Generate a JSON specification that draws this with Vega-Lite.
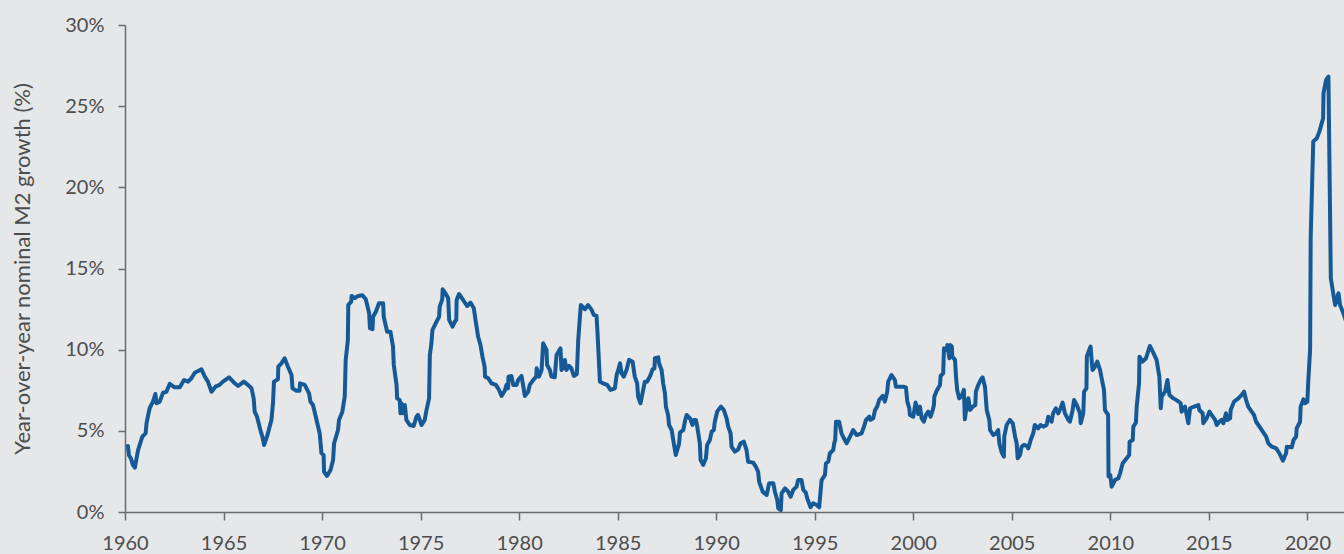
{
 "$schema": "https://vega.github.io/schema/vega-lite/v6.json",
 "width": 1219,
 "height": 487,
 "autosize": {"type": "none"},
 "padding": {"left": 125, "top": 25, "right": 0, "bottom": 42},
 "background": "#e6e7e9",
 "data": {"values": [
  {"year":1960.15,"growth":4.07},{"year":1960.2,"growth":3.5},{"year":1960.3,"growth":3.3},{"year":1960.4,"growth":2.9},{"year":1960.5,"growth":2.73},{"year":1960.66,"growth":3.8},{"year":1960.88,"growth":4.64},{"year":1961.05,"growth":4.86},{"year":1961.09,"growth":5.46},{"year":1961.25,"growth":6.39},{"year":1961.42,"growth":6.8},{"year":1961.54,"growth":7.27},{"year":1961.6,"growth":6.7},{"year":1961.76,"growth":6.8},{"year":1961.93,"growth":7.35},{"year":1962.1,"growth":7.41},{"year":1962.27,"growth":7.89},{"year":1962.52,"growth":7.68},{"year":1962.78,"growth":7.68},{"year":1963.0,"growth":8.13},{"year":1963.2,"growth":8.03},{"year":1963.37,"growth":8.24},{"year":1963.54,"growth":8.58},{"year":1963.88,"growth":8.79},{"year":1964.05,"growth":8.34},{"year":1964.21,"growth":8.03},{"year":1964.39,"growth":7.41},{"year":1964.59,"growth":7.72},{"year":1964.8,"growth":7.83},{"year":1964.97,"growth":8.03},{"year":1965.28,"growth":8.3},{"year":1965.57,"growth":7.93},{"year":1965.74,"growth":7.76},{"year":1966.03,"growth":8.03},{"year":1966.24,"growth":7.83},{"year":1966.42,"growth":7.62},{"year":1966.53,"growth":7.0},{"year":1966.58,"growth":6.18},{"year":1966.7,"growth":5.87},{"year":1966.87,"growth":5.05},{"year":1966.97,"growth":4.64},{"year":1967.06,"growth":4.13},{"year":1967.23,"growth":4.74},{"year":1967.43,"growth":5.67},{"year":1967.51,"growth":6.7},{"year":1967.56,"growth":8.03},{"year":1967.76,"growth":8.18},{"year":1967.78,"growth":8.95},{"year":1967.94,"growth":9.16},{"year":1968.1,"growth":9.47},{"year":1968.27,"growth":8.95},{"year":1968.45,"growth":8.44},{"year":1968.5,"growth":7.62},{"year":1968.7,"growth":7.47},{"year":1968.86,"growth":7.47},{"year":1968.88,"growth":7.93},{"year":1969.12,"growth":7.83},{"year":1969.34,"growth":7.31},{"year":1969.41,"growth":6.8},{"year":1969.54,"growth":6.59},{"year":1969.72,"growth":5.67},{"year":1969.88,"growth":4.85},{"year":1969.97,"growth":3.62},{"year":1970.08,"growth":3.51},{"year":1970.1,"growth":2.48},{"year":1970.25,"growth":2.22},{"year":1970.43,"growth":2.59},{"year":1970.56,"growth":3.2},{"year":1970.61,"growth":4.23},{"year":1970.81,"growth":5.05},{"year":1970.86,"growth":5.67},{"year":1971.03,"growth":6.18},{"year":1971.15,"growth":7.1},{"year":1971.2,"growth":9.37},{"year":1971.31,"growth":10.6},{"year":1971.33,"growth":12.75},{"year":1971.48,"growth":12.96},{"year":1971.5,"growth":13.31},{"year":1971.66,"growth":13.17},{"year":1971.83,"growth":13.31},{"year":1972.05,"growth":13.35},{"year":1972.22,"growth":13.1},{"year":1972.39,"growth":12.24},{"year":1972.43,"growth":11.33},{"year":1972.56,"growth":11.26},{"year":1972.59,"growth":12.03},{"year":1972.73,"growth":12.34},{"year":1972.89,"growth":12.86},{"year":1973.1,"growth":12.86},{"year":1973.13,"growth":12.03},{"year":1973.3,"growth":11.11},{"year":1973.47,"growth":11.11},{"year":1973.6,"growth":10.19},{"year":1973.64,"growth":9.06},{"year":1973.78,"growth":7.83},{"year":1973.81,"growth":7.0},{"year":1973.94,"growth":6.9},{"year":1973.98,"growth":6.08},{"year":1974.03,"growth":6.7},{"year":1974.11,"growth":6.08},{"year":1974.2,"growth":6.59},{"year":1974.28,"growth":5.67},{"year":1974.45,"growth":5.36},{"year":1974.65,"growth":5.3},{"year":1974.79,"growth":5.87},{"year":1974.87,"growth":5.98},{"year":1975.05,"growth":5.36},{"year":1975.21,"growth":5.67},{"year":1975.3,"growth":6.28},{"year":1975.43,"growth":7.0},{"year":1975.47,"growth":9.67},{"year":1975.55,"growth":10.39},{"year":1975.6,"growth":11.21},{"year":1975.81,"growth":11.73},{"year":1975.94,"growth":12.03},{"year":1975.97,"growth":12.65},{"year":1976.1,"growth":13.1},{"year":1976.12,"growth":13.72},{"year":1976.28,"growth":13.43},{"year":1976.4,"growth":13.17},{"year":1976.45,"growth":11.83},{"year":1976.62,"growth":11.42},{"year":1976.74,"growth":11.73},{"year":1976.81,"growth":11.83},{"year":1976.83,"growth":13.06},{"year":1976.95,"growth":13.43},{"year":1977.16,"growth":13.06},{"year":1977.36,"growth":12.69},{"year":1977.53,"growth":12.9},{"year":1977.7,"growth":12.55},{"year":1977.8,"growth":11.73},{"year":1977.92,"growth":10.8},{"year":1978.04,"growth":10.29},{"year":1978.14,"growth":9.57},{"year":1978.25,"growth":8.95},{"year":1978.27,"growth":8.34},{"year":1978.43,"growth":8.24},{"year":1978.6,"growth":7.93},{"year":1978.82,"growth":7.83},{"year":1978.98,"growth":7.52},{"year":1979.11,"growth":7.15},{"year":1979.27,"growth":7.47},{"year":1979.36,"growth":7.83},{"year":1979.44,"growth":7.62},{"year":1979.46,"growth":8.34},{"year":1979.61,"growth":8.38},{"year":1979.7,"growth":7.83},{"year":1979.87,"growth":7.83},{"year":1979.95,"growth":8.13},{"year":1980.12,"growth":8.38},{"year":1980.2,"growth":7.83},{"year":1980.29,"growth":7.15},{"year":1980.46,"growth":7.41},{"year":1980.54,"growth":7.83},{"year":1980.71,"growth":8.13},{"year":1980.87,"growth":8.34},{"year":1980.89,"growth":8.85},{"year":1981.01,"growth":8.34},{"year":1981.14,"growth":8.75},{"year":1981.22,"growth":10.39},{"year":1981.39,"growth":9.98},{"year":1981.42,"growth":9.06},{"year":1981.56,"growth":8.75},{"year":1981.64,"growth":8.34},{"year":1981.81,"growth":8.3},{"year":1981.9,"growth":9.67},{"year":1982.1,"growth":10.08},{"year":1982.15,"growth":8.75},{"year":1982.27,"growth":8.95},{"year":1982.32,"growth":9.37},{"year":1982.4,"growth":8.75},{"year":1982.54,"growth":9.0},{"year":1982.65,"growth":8.85},{"year":1982.78,"growth":8.38},{"year":1982.93,"growth":8.5},{"year":1983.0,"growth":10.6},{"year":1983.13,"growth":12.75},{"year":1983.34,"growth":12.49},{"year":1983.5,"growth":12.75},{"year":1983.68,"growth":12.45},{"year":1983.79,"growth":12.14},{"year":1983.93,"growth":12.08},{"year":1983.98,"growth":11.01},{"year":1984.1,"growth":8.03},{"year":1984.26,"growth":7.93},{"year":1984.47,"growth":7.83},{"year":1984.64,"growth":7.52},{"year":1984.86,"growth":7.62},{"year":1984.95,"growth":8.44},{"year":1985.08,"growth":8.95},{"year":1985.12,"growth":9.16},{"year":1985.2,"growth":8.54},{"year":1985.31,"growth":8.34},{"year":1985.45,"growth":8.75},{"year":1985.58,"growth":9.37},{"year":1985.76,"growth":9.26},{"year":1985.87,"growth":8.34},{"year":1985.99,"growth":7.93},{"year":1986.04,"growth":7.1},{"year":1986.16,"growth":6.7},{"year":1986.38,"growth":8.03},{"year":1986.5,"growth":8.03},{"year":1986.67,"growth":8.44},{"year":1986.77,"growth":8.79},{"year":1986.87,"growth":8.85},{"year":1986.89,"growth":9.47},{"year":1987.06,"growth":9.53},{"year":1987.1,"growth":9.16},{"year":1987.23,"growth":8.75},{"year":1987.31,"growth":7.93},{"year":1987.4,"growth":7.31},{"year":1987.45,"growth":6.49},{"year":1987.56,"growth":5.98},{"year":1987.61,"growth":5.36},{"year":1987.74,"growth":5.05},{"year":1987.85,"growth":4.23},{"year":1987.95,"growth":3.51},{"year":1988.12,"growth":4.23},{"year":1988.16,"growth":4.89},{"year":1988.33,"growth":5.05},{"year":1988.41,"growth":5.56},{"year":1988.5,"growth":5.98},{"year":1988.67,"growth":5.77},{"year":1988.8,"growth":5.36},{"year":1988.87,"growth":5.67},{"year":1988.97,"growth":5.67},{"year":1989.04,"growth":5.26},{"year":1989.17,"growth":4.23},{"year":1989.21,"growth":3.2},{"year":1989.34,"growth":2.9},{"year":1989.48,"growth":3.31},{"year":1989.54,"growth":4.13},{"year":1989.68,"growth":4.44},{"year":1989.77,"growth":4.95},{"year":1989.88,"growth":5.05},{"year":1989.93,"growth":5.56},{"year":1990.05,"growth":6.18},{"year":1990.24,"growth":6.49},{"year":1990.39,"growth":6.28},{"year":1990.53,"growth":5.77},{"year":1990.61,"growth":5.26},{"year":1990.73,"growth":4.85},{"year":1990.78,"growth":4.02},{"year":1990.95,"growth":3.72},{"year":1991.12,"growth":3.86},{"year":1991.24,"growth":4.23},{"year":1991.4,"growth":4.33},{"year":1991.54,"growth":3.82},{"year":1991.62,"growth":3.1},{"year":1991.88,"growth":3.04},{"year":1992.01,"growth":2.79},{"year":1992.13,"growth":2.48},{"year":1992.18,"growth":1.87},{"year":1992.36,"growth":1.25},{"year":1992.56,"growth":1.05},{"year":1992.69,"growth":1.77},{"year":1992.9,"growth":1.77},{"year":1992.98,"growth":1.25},{"year":1993.1,"growth":0.74},{"year":1993.15,"growth":0.23},{"year":1993.28,"growth":0.12},{"year":1993.32,"growth":1.15},{"year":1993.49,"growth":1.46},{"year":1993.65,"growth":1.25},{"year":1993.78,"growth":0.94},{"year":1993.91,"growth":1.36},{"year":1994.08,"growth":1.56},{"year":1994.16,"growth":1.97},{"year":1994.33,"growth":1.97},{"year":1994.42,"growth":1.36},{"year":1994.55,"growth":1.19},{"year":1994.62,"growth":0.84},{"year":1994.79,"growth":0.29},{"year":1994.92,"growth":0.54},{"year":1995.1,"growth":0.43},{"year":1995.23,"growth":0.29},{"year":1995.26,"growth":0.74},{"year":1995.35,"growth":1.97},{"year":1995.52,"growth":2.28},{"year":1995.57,"growth":3.0},{"year":1995.69,"growth":3.1},{"year":1995.77,"growth":3.62},{"year":1995.94,"growth":3.82},{"year":1995.99,"growth":4.23},{"year":1996.04,"growth":4.44},{"year":1996.08,"growth":5.56},{"year":1996.24,"growth":5.56},{"year":1996.36,"growth":4.85},{"year":1996.48,"growth":4.54},{"year":1996.62,"growth":4.23},{"year":1996.79,"growth":4.64},{"year":1996.95,"growth":5.05},{"year":1997.13,"growth":4.74},{"year":1997.38,"growth":4.85},{"year":1997.5,"growth":5.26},{"year":1997.6,"growth":5.67},{"year":1997.77,"growth":5.87},{"year":1997.82,"growth":5.67},{"year":1997.97,"growth":5.77},{"year":1998.06,"growth":6.28},{"year":1998.17,"growth":6.49},{"year":1998.27,"growth":6.9},{"year":1998.45,"growth":7.15},{"year":1998.56,"growth":6.8},{"year":1998.68,"growth":7.41},{"year":1998.73,"growth":8.03},{"year":1998.9,"growth":8.44},{"year":1999.07,"growth":8.13},{"year":1999.12,"growth":7.72},{"year":1999.32,"growth":7.72},{"year":1999.49,"growth":7.72},{"year":1999.63,"growth":7.68},{"year":1999.7,"growth":6.8},{"year":1999.8,"growth":6.39},{"year":1999.83,"growth":5.98},{"year":2000.0,"growth":5.87},{"year":2000.12,"growth":6.74},{"year":2000.25,"growth":6.04},{"year":2000.34,"growth":6.49},{"year":2000.43,"growth":5.77},{"year":2000.54,"growth":5.56},{"year":2000.65,"growth":5.98},{"year":2000.76,"growth":6.18},{"year":2000.88,"growth":5.87},{"year":2000.99,"growth":6.28},{"year":2001.05,"growth":6.59},{"year":2001.07,"growth":7.1},{"year":2001.19,"growth":7.47},{"year":2001.36,"growth":7.83},{"year":2001.39,"growth":8.38},{"year":2001.52,"growth":8.54},{"year":2001.56,"growth":10.08},{"year":2001.7,"growth":9.98},{"year":2001.73,"growth":10.29},{"year":2001.83,"growth":9.47},{"year":2001.87,"growth":10.29},{"year":2001.96,"growth":10.19},{"year":2001.98,"growth":9.57},{"year":2002.12,"growth":9.37},{"year":2002.17,"growth":8.34},{"year":2002.23,"growth":7.52},{"year":2002.33,"growth":7.0},{"year":2002.46,"growth":7.15},{"year":2002.57,"growth":7.52},{"year":2002.62,"growth":5.71},{"year":2002.74,"growth":6.8},{"year":2002.8,"growth":7.0},{"year":2002.88,"growth":6.28},{"year":2003.02,"growth":6.49},{"year":2003.15,"growth":6.59},{"year":2003.18,"growth":7.41},{"year":2003.3,"growth":7.83},{"year":2003.42,"growth":8.13},{"year":2003.52,"growth":8.3},{"year":2003.64,"growth":7.72},{"year":2003.73,"growth":6.28},{"year":2003.86,"growth":5.67},{"year":2003.9,"growth":5.05},{"year":2004.06,"growth":4.74},{"year":2004.2,"growth":4.85},{"year":2004.31,"growth":5.05},{"year":2004.37,"growth":4.23},{"year":2004.49,"growth":3.66},{"year":2004.6,"growth":3.41},{"year":2004.62,"growth":4.64},{"year":2004.74,"growth":5.36},{"year":2004.91,"growth":5.67},{"year":2005.05,"growth":5.47},{"year":2005.17,"growth":4.64},{"year":2005.25,"growth":4.23},{"year":2005.3,"growth":3.31},{"year":2005.42,"growth":3.51},{"year":2005.5,"growth":4.02},{"year":2005.62,"growth":4.13},{"year":2005.76,"growth":4.07},{"year":2005.84,"growth":3.92},{"year":2005.96,"growth":4.44},{"year":2006.09,"growth":4.85},{"year":2006.17,"growth":5.36},{"year":2006.34,"growth":5.15},{"year":2006.46,"growth":5.36},{"year":2006.6,"growth":5.26},{"year":2006.77,"growth":5.36},{"year":2006.85,"growth":5.87},{"year":2007.02,"growth":5.56},{"year":2007.1,"growth":6.08},{"year":2007.24,"growth":6.39},{"year":2007.36,"growth":6.08},{"year":2007.48,"growth":6.39},{"year":2007.58,"growth":6.74},{"year":2007.7,"growth":6.08},{"year":2007.87,"growth":5.67},{"year":2007.95,"growth":5.56},{"year":2008.09,"growth":6.28},{"year":2008.16,"growth":6.9},{"year":2008.3,"growth":6.59},{"year":2008.46,"growth":6.08},{"year":2008.5,"growth":5.47},{"year":2008.63,"growth":6.08},{"year":2008.67,"growth":7.41},{"year":2008.79,"growth":7.62},{"year":2008.81,"growth":9.57},{"year":2008.93,"growth":9.98},{"year":2009.0,"growth":10.19},{"year":2009.05,"growth":9.41},{"year":2009.1,"growth":8.75},{"year":2009.22,"growth":8.95},{"year":2009.34,"growth":9.26},{"year":2009.48,"growth":8.75},{"year":2009.56,"growth":8.24},{"year":2009.68,"growth":7.52},{"year":2009.73,"growth":6.28},{"year":2009.89,"growth":5.98},{"year":2009.91,"growth":2.18},{"year":2010.0,"growth":2.28},{"year":2010.07,"growth":1.56},{"year":2010.24,"growth":1.97},{"year":2010.41,"growth":2.08},{"year":2010.5,"growth":2.4},{"year":2010.63,"growth":3.0},{"year":2010.83,"growth":3.31},{"year":2010.96,"growth":3.51},{"year":2010.98,"growth":4.33},{"year":2011.14,"growth":4.44},{"year":2011.17,"growth":5.26},{"year":2011.3,"growth":5.5},{"year":2011.34,"growth":6.49},{"year":2011.46,"growth":7.93},{"year":2011.48,"growth":9.57},{"year":2011.64,"growth":9.26},{"year":2011.81,"growth":9.47},{"year":2012.01,"growth":10.23},{"year":2012.18,"growth":9.82},{"year":2012.35,"growth":9.37},{"year":2012.49,"growth":8.34},{"year":2012.56,"growth":6.39},{"year":2012.61,"growth":7.1},{"year":2012.78,"growth":7.41},{"year":2012.9,"growth":8.13},{"year":2013.0,"growth":7.21},{"year":2013.2,"growth":7.0},{"year":2013.4,"growth":6.86},{"year":2013.57,"growth":6.7},{"year":2013.62,"growth":6.18},{"year":2013.79,"growth":6.49},{"year":2013.96,"growth":5.47},{"year":2014.05,"growth":6.39},{"year":2014.25,"growth":6.49},{"year":2014.47,"growth":6.59},{"year":2014.52,"growth":6.28},{"year":2014.69,"growth":6.08},{"year":2014.72,"growth":5.47},{"year":2014.89,"growth":5.77},{"year":2015.03,"growth":6.18},{"year":2015.14,"growth":5.98},{"year":2015.32,"growth":5.67},{"year":2015.4,"growth":5.36},{"year":2015.53,"growth":5.56},{"year":2015.65,"growth":5.67},{"year":2015.74,"growth":5.47},{"year":2015.87,"growth":6.08},{"year":2015.94,"growth":5.67},{"year":2016.08,"growth":5.77},{"year":2016.11,"growth":6.28},{"year":2016.28,"growth":6.8},{"year":2016.5,"growth":7.0},{"year":2016.67,"growth":7.21},{"year":2016.79,"growth":7.41},{"year":2016.89,"growth":6.9},{"year":2017.0,"growth":6.49},{"year":2017.12,"growth":6.28},{"year":2017.29,"growth":5.98},{"year":2017.4,"growth":5.56},{"year":2017.57,"growth":5.26},{"year":2017.74,"growth":4.95},{"year":2017.91,"growth":4.64},{"year":2018.02,"growth":4.23},{"year":2018.2,"growth":4.02},{"year":2018.42,"growth":3.92},{"year":2018.58,"growth":3.62},{"year":2018.76,"growth":3.16},{"year":2018.92,"growth":3.62},{"year":2018.96,"growth":4.02},{"year":2019.21,"growth":3.99},{"year":2019.3,"growth":4.44},{"year":2019.43,"growth":4.64},{"year":2019.46,"growth":5.15},{"year":2019.63,"growth":5.56},{"year":2019.66,"growth":6.49},{"year":2019.8,"growth":6.94},{"year":2019.88,"growth":6.7},{"year":2020.0,"growth":6.8},{"year":2020.05,"growth":8.13},{"year":2020.14,"growth":9.98},{"year":2020.17,"growth":16.96},{"year":2020.3,"growth":22.82},{"year":2020.48,"growth":23.02},{"year":2020.61,"growth":23.43},{"year":2020.8,"growth":24.26},{"year":2020.82,"growth":25.8},{"year":2020.95,"growth":26.62},{"year":2021.07,"growth":26.82},{"year":2021.15,"growth":18.6},{"year":2021.19,"growth":14.4},{"year":2021.41,"growth":12.75},{"year":2021.58,"growth":13.47},{"year":2021.66,"growth":12.75},{"year":2021.83,"growth":12.24},{"year":2021.95,"growth":11.8}
 ]},
 "mark": {"type": "line", "color": "#155a96", "strokeWidth": 4, "strokeJoin": "round", "strokeCap": "round", "clip": true},
 "encoding": {
  "x": {"field": "year", "type": "quantitative",
   "scale": {"domain": [1960, 2021.86], "nice": false, "zero": false},
   "axis": {"values": [1960,1965,1970,1975,1980,1985,1990,1995,2000,2005,2010,2015,2020], "format": "d", "grid": false, "title": null,
    "domainColor": "#6b6b6b", "domainWidth": 1.5, "tickColor": "#6b6b6b", "tickWidth": 1.5, "tickSize": 8,
    "labelFont": "Lato", "labelFontWeight": "normal", "labelFontSize": 20, "labelColor": "#4d4d4d", "labelPadding": 13, "labelFlush": false}},
  "y": {"field": "growth", "type": "quantitative",
   "scale": {"domain": [0, 30], "nice": false},
   "axis": {"values": [0,5,10,15,20,25,30], "labelExpr": "datum.value + '%'", "grid": false,
    "domainColor": "#6b6b6b", "domainWidth": 1.5, "tickColor": "#6b6b6b", "tickWidth": 1.5, "tickSize": 7,
    "labelFont": "Lato", "labelFontWeight": "normal", "labelFontSize": 20, "labelColor": "#4d4d4d", "labelPadding": 14,
    "title": "Year-over-year nominal M2 growth (%)", "titleFont": "Lato", "titleFontWeight": "normal", "titleFontSize": 22, "titleColor": "#4d4d4d",
    "titleAngle": -90, "titleX": -103, "titleY": 243.5, "titleAlign": "center", "titleBaseline": "middle"}}
 },
 "config": {"view": {"stroke": null}}
}
